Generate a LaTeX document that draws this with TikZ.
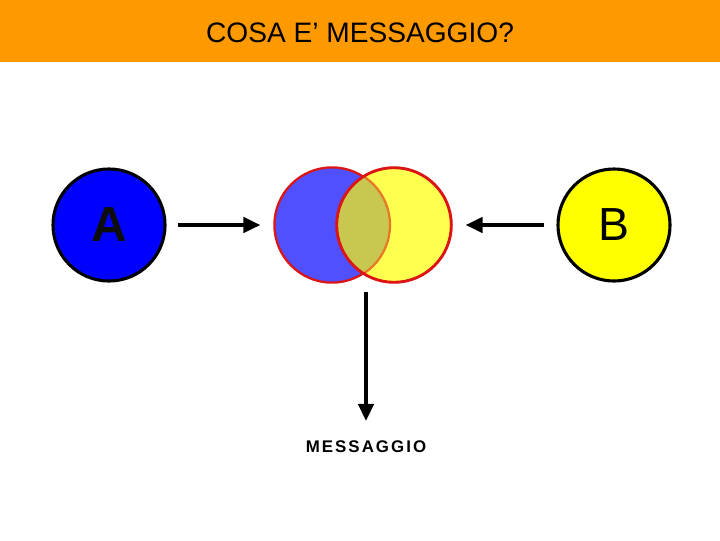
\documentclass[tikz,border=0pt]{standalone}
\usepackage{fontspec}
\setmainfont{Liberation Sans}
\usepackage{tikz}
\usetikzlibrary{arrows.meta,positioning}
\usepackage{xcolor}

\definecolor{headorange}{RGB}{255,153,0}
\definecolor{pureblue}{RGB}{0,0,255}
\definecolor{pureyellow}{RGB}{255,255,0}
\definecolor{softblue}{RGB}{80,80,255}
\definecolor{softyellow}{RGB}{255,255,80}
\definecolor{overlap}{RGB}{200,200,80}
\definecolor{venred}{RGB}{220,20,20}
\definecolor{innerline}{RGB}{230,120,40}

\tikzset{
    person/.style={circle, draw=black, line width=2.2pt, minimum size=2.8cm, inner sep=0pt},
    vennset/.style={circle, draw=venred, line width=1.6pt, minimum size=2.88cm, inner sep=0pt},
    flow/.style={line width=2.2pt, -{Triangle[length=12pt,width=11pt]}}
}

\begin{document}
\begin{tikzpicture}[x=0.025cm, y=-0.025cm]
    \useasboundingbox (0,0) rectangle (720,540);

    % Header band
    \fill[headorange] (0,0) rectangle (720,62);
    \node (title) at (360,33) {\fontsize{20}{24}\selectfont COSA E’ MESSAGGIO?};

    % Sender and receiver
    \node[person, fill=pureblue] (A) at (109,225)
        {\fontsize{35}{40}\selectfont\bfseries\textcolor{black!95}{A}};
    \node[person, fill=pureyellow] (B) at (614,225)
        {\fontsize{33}{40}\selectfont B};

    % Overlapping sets
    \node[vennset, fill=softblue] (left) at (332,225) {};
    \node[vennset, fill=softyellow] (right) at (394,225) {};
    \begin{scope}
        \clip (332,225) circle (58);
        \fill[overlap] (394,225) circle (57);
    \end{scope}
    \begin{scope}
        \clip (394,225) circle (57);
        \draw[innerline, line width=1.6pt] (332,225) circle (58);
    \end{scope}
    \draw[venred, line width=1.6pt] (394,225) circle (57);
    \coordinate (venn) at (366,292);

    % Message label
    \node (msg) at (366,447)
        {\fontsize{12}{14}\selectfont\bfseries\addfontfeature{LetterSpace=12}MESSAGGIO};

    % Arrows
    \draw[flow] (A.east) ++(11,0) -- ([xshift=-13*0.025cm]left.west);
    \draw[flow] (B.west) ++(-12,0) -- ([xshift=13*0.025cm]right.east);
    \draw[flow] (venn) -- ([yshift=0.38cm]msg.north);
\end{tikzpicture}
\end{document}
